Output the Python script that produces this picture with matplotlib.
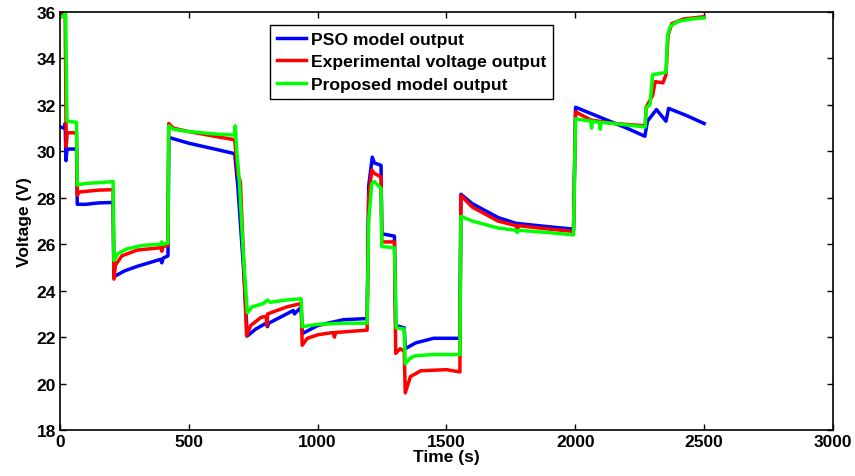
import matplotlib
matplotlib.use("Agg")
import matplotlib.pyplot as plt

plt.rcParams['font.family'] = ['Liberation Sans', 'DejaVu Sans']
plt.rcParams['font.weight'] = 'bold'

# PSO model output (blue)
t_pso = [0, 18, 20, 23, 27, 64, 67, 100, 150, 206, 209, 250, 300, 390, 395, 400, 419, 422,
         500, 600, 678, 690, 712, 727, 760, 800, 805, 810, 880, 905, 910, 936, 940, 1000,
         1100, 1192, 1198, 1212, 1220, 1246, 1249, 1298, 1303, 1336, 1340, 1380, 1450, 1552,
         1556, 1600, 1700, 1770, 1900, 1993, 2001, 2100, 2200, 2270, 2280, 2315, 2352, 2362,
         2430, 2500]
v_pso = [31.05, 31.0, 31.2, 29.6, 30.1, 30.1, 27.72, 27.72, 27.78, 27.8, 24.6, 24.85, 25.05,
         25.35, 25.2, 25.4, 25.5, 30.6, 30.35, 30.1, 29.9, 28.5, 25.0, 22.05, 22.35, 22.6,
         22.45, 22.6, 23.0, 23.15, 23.0, 23.3, 22.15, 22.5, 22.75, 22.8, 28.5, 29.75, 29.5,
         29.4, 26.45, 26.35, 22.5, 22.4, 21.5, 21.75, 21.95, 21.95, 28.15, 27.75, 27.15,
         26.9, 26.75, 26.65, 31.9, 31.45, 31.0, 30.65, 31.3, 31.8, 31.3, 31.85, 31.55, 31.2]

# Experimental voltage output (red)
t_exp = [0, 15, 20, 24, 28, 64, 67, 75, 150, 206, 209, 215, 240, 300, 390, 395, 400, 419,
         422, 440, 500, 600, 678, 690, 700, 712, 724, 740, 780, 800, 803, 806, 880, 936, 940,
         960, 1000, 1060, 1065, 1070, 1192, 1198, 1210, 1220, 1246, 1249, 1298, 1303, 1320,
         1336, 1340, 1360, 1400, 1500, 1552, 1556, 1600, 1700, 1770, 1775, 1780, 1900, 1993,
         2001, 2060, 2150, 2271, 2275, 2300, 2310, 2340, 2352, 2360, 2375, 2420, 2500]
v_exp = [35.9, 36.0, 35.8, 30.2, 30.8, 30.8, 28.1, 28.25, 28.33, 28.35, 24.5, 25.1, 25.5,
         25.75, 25.85, 25.7, 25.9, 25.95, 31.2, 31.0, 30.85, 30.65, 30.5, 29.0, 28.7, 25.5,
         22.05, 22.5, 22.85, 22.9, 22.5, 23.0, 23.3, 23.45, 21.65, 21.95, 22.1, 22.2, 22.0,
         22.2, 22.3, 28.0, 29.2, 29.05, 28.9, 26.1, 26.1, 21.3, 21.5, 21.4, 19.6, 20.3, 20.55,
         20.6, 20.5, 28.1, 27.6, 27.0, 26.8, 26.6, 26.8, 26.65, 26.55, 31.7, 31.35, 31.2,
         31.1, 31.9, 32.4, 33.0, 32.95, 33.3, 35.0, 35.5, 35.7, 35.8]

# Proposed model output (green)
t_new = [0, 15, 22, 27, 64, 67, 100, 150, 206, 209, 225, 260, 320, 390, 395, 400, 419, 422,
         440, 500, 600, 676, 680, 684, 696, 712, 727, 745, 790, 805, 815, 880, 936, 940, 1000,
         1100, 1192, 1198, 1210, 1220, 1246, 1249, 1298, 1305, 1336, 1340, 1360, 1380, 1450,
         1552, 1556, 1600, 1700, 1770, 1775, 1780, 1900, 1993, 2001, 2060, 2063, 2066, 2094,
         2097, 2100, 2150, 2271, 2275, 2290, 2300, 2352, 2358, 2370, 2400, 2450, 2500]
v_new = [35.75, 35.85, 35.95, 31.3, 31.25, 28.55, 28.62, 28.65, 28.7, 25.3, 25.6, 25.8,
         25.95, 26.0, 26.1, 26.0, 26.05, 31.1, 30.95, 30.85, 30.75, 30.7, 31.1, 30.3, 28.7,
         25.5, 23.05, 23.3, 23.45, 23.6, 23.5, 23.6, 23.65, 22.45, 22.55, 22.6, 22.6, 27.0,
         28.6, 28.7, 28.4, 25.9, 25.85, 22.4, 22.35, 20.85, 21.1, 21.2, 21.25, 21.25, 27.2,
         27.0, 26.7, 26.6, 26.5, 26.6, 26.5, 26.4, 31.4, 31.3, 31.0, 31.3, 31.25, 30.95,
         31.25, 31.2, 31.05, 31.9, 32.0, 33.3, 33.4, 35.0, 35.4, 35.6, 35.7, 35.75]

fig = plt.figure(figsize=(8.55, 4.77), dpi=100)
ax = fig.add_axes([0.0702, 0.0964, 0.904, 0.8763])

ax.plot(t_pso, v_pso, color='#0000ff', linewidth=2.5, label="PSO model output")
ax.plot(t_exp, v_exp, color='#ff0000', linewidth=2.5, label="Experimental voltage output")
ax.plot(t_new, v_new, color='#00ff00', linewidth=2.5, label="Proposed model output")

ax.set_xlim(0, 3000)
ax.set_ylim(18, 36)
ax.set_xticks([0, 500, 1000, 1500, 2000, 2500, 3000])
ax.set_yticks([18, 20, 22, 24, 26, 28, 30, 32, 34, 36])
ax.tick_params(direction='in', top=True, right=True, labelsize=12.5, length=4, width=1, pad=3)
for s in ax.spines.values():
    s.set_linewidth(1.2)

ax.set_xlabel("Time (s)", fontsize=12.5, fontweight='bold', labelpad=0)
ax.set_ylabel("Voltage (V)", fontsize=12.5, fontweight='bold', labelpad=3)

leg = ax.legend(loc='upper left', bbox_to_anchor=(0.2717, 0.969), fontsize=12.6,
                fancybox=False, edgecolor='black', framealpha=1, handlelength=1.7,
                handletextpad=0.25, borderpad=0.38, labelspacing=0.42, borderaxespad=0)
leg.get_frame().set_linewidth(1.0)

plt.savefig("out.png", dpi=100)
